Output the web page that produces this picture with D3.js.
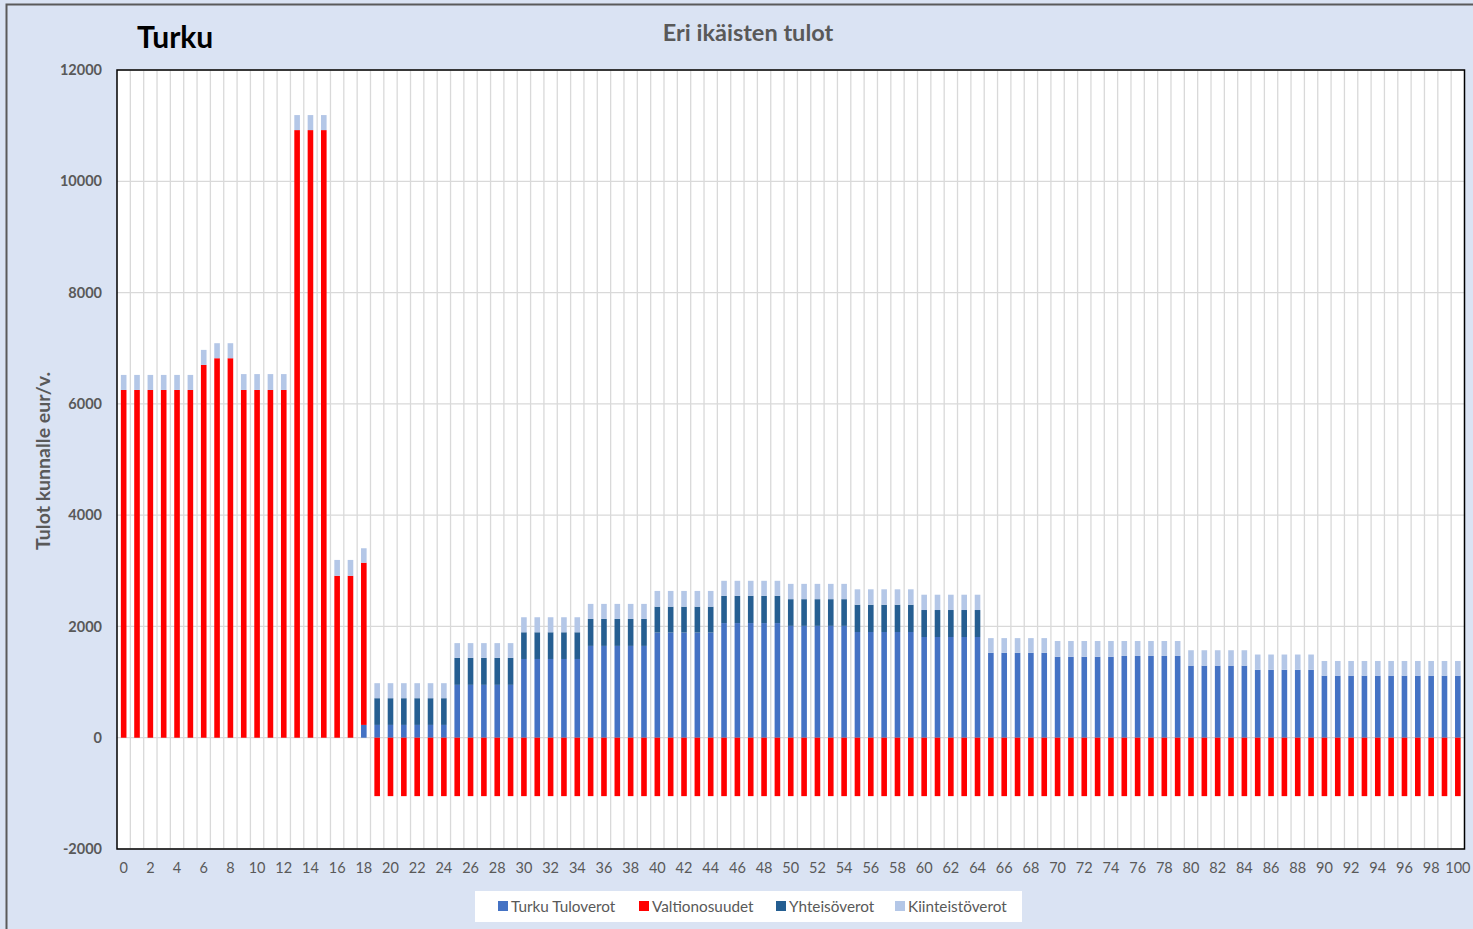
<!DOCTYPE html>
<html><head><meta charset="utf-8">
<script src="https://cdn.jsdelivr.net/npm/d3@7"></script>
<style>html,body{margin:0;padding:0;background:#dae3f3;overflow:hidden;}svg{display:block;}</style>
</head><body>
<svg id="c" width="1473" height="929"></svg>
<script>
const ages = d3.range(0, 101);
const tuloverot = [0,0,0,0,0,0,0,0,0,0,0,0,0,0,0,0,0,0,230,
 230,230,230,230,230,230,
 950,950,950,950,950,
 1415,1415,1415,1415,1415,
 1650,1650,1650,1650,1650,
 1890,1890,1890,1890,1890,
 2060,2060,2060,2060,2060,
 2010,2010,2010,2010,2010,
 1900,1900,1900,1900,1900,
 1810,1810,1810,1810,1810,
 1525,1525,1525,1525,1525,
 1455,1455,1455,1455,1455,
 1470,1470,1470,1470,1470,
 1295,1295,1295,1295,1295,
 1220,1220,1220,1220,1220,
 1115,1115,1115,1115,1115,1115,1115,1115,1115,1115,1115];
const valtionosuudet = [6250,6250,6250,6250,6250,6250,6700,6820,6820,6250,6250,6250,6250,
 10920,10920,10920,2910,2910,2915,
 -1050,-1050,-1050,-1050,-1050,-1050,-1050,-1050,-1050,-1050,
 -1050,-1050,-1050,-1050,-1050,-1050,-1050,-1050,-1050,-1050,
 -1050,-1050,-1050,-1050,-1050,-1050,-1050,-1050,-1050,-1050,
 -1050,-1050,-1050,-1050,-1050,-1050,-1050,-1050,-1050,-1050,
 -1050,-1050,-1050,-1050,-1050,-1050,-1050,-1050,-1050,-1050,
 -1050,-1050,-1050,-1050,-1050,-1050,-1050,-1050,-1050,-1050,
 -1050,-1050,-1050,-1050,-1050,-1050,-1050,-1050,-1050,-1050,
 -1050,-1050,-1050,-1050,-1050,-1050,-1050,-1050,-1050,-1050,
 -1050,-1050];
const yhteisoverot = [0,0,0,0,0,0,0,0,0,0,0,0,0,0,0,0,0,0,0,
 480,480,480,480,480,480,
 485,485,485,485,485,
 480,480,480,480,480,
 485,485,485,485,485,
 465,465,465,465,465,
 490,490,490,490,490,
 480,480,480,480,480,
 490,490,490,490,490,
 485,485,485,485,485,
 0,0,0,0,0,0,0,0,0,0,0,0,0,0,0,0,0,0,0,0,0,0,0,0,0,0,0,0,0,0,0,0,0,0,0,0];
const kiinteistoverot = [270,270,270,270,270,270,270,270,270,285,285,285,285,
 270,270,270,285,285,260,
 270,270,270,270,270,270,
 265,265,265,265,265,
 270,270,270,270,270,
 270,270,270,270,270,
 283,283,283,283,283,
 270,270,270,270,270,
 275,275,275,275,275,
 277,277,277,277,277,
 275,275,275,275,275,
 265,265,265,265,265,
 283,283,283,283,283,
 268,268,268,268,268,
 277,277,277,277,277,
 275,275,275,275,275,
 264,264,264,264,264,264,264,264,264,264,264];
const seriesNames = ["Turku Tuloverot","Valtionosuudet","Yhteisöverot","Kiinteistöverot"];
const seriesColors = ["#4472c4","#ff0000","#255e91","#b4c7e7"];
const yTicks = [-2000,0,2000,4000,6000,8000,10000,12000];
const xTickLabels = ages.filter(a => a % 2 === 0);

const rows = ages.map((a,i) => ({age:a, s0:tuloverot[i], s1:valtionosuudet[i], s2:yhteisoverot[i], s3:kiinteistoverot[i]}));
const stacked = d3.stack().keys(["s0","s1","s2","s3"]).offset(d3.stackOffsetDiverging)(rows);

const svg = d3.select("#c");
const font = "Lato, 'Open Sans', sans-serif";
const gray = "#595959";

// outer border
svg.append("rect").attr("x",6.5).attr("y",4.5).attr("width",1480).attr("height",940)
  .attr("fill","#dae3f3").attr("stroke","#5a5a5a").attr("stroke-width",2);

const L = 117, R = 1464.5, T = 70, B = 849;
const x = d3.scaleBand().domain(ages).range([L, R]).paddingInner(0).paddingOuter(0);
const y = d3.scaleLinear().domain([-2000, 12000]).range([B, T]);

svg.append("rect").attr("x",L).attr("y",T).attr("width",R-L).attr("height",B-T).attr("fill","#fff");

// vertical gridlines at category boundaries
svg.append("g").selectAll("line").data(ages.slice(1)).join("line")
  .attr("x1",d=>x(d)).attr("x2",d=>x(d)).attr("y1",T).attr("y2",B)
  .attr("stroke","#d9d9d9").attr("stroke-width",1.3);
// horizontal gridlines
svg.append("g").selectAll("line").data(yTicks).join("line")
  .attr("x1",L).attr("x2",R).attr("y1",d=>y(d)).attr("y2",d=>y(d))
  .attr("stroke","#d9d9d9").attr("stroke-width",1.3);

// bars
const bw = x.bandwidth()*0.42;
svg.append("g").selectAll("g").data(stacked).join("g")
  .attr("fill",(d,i)=>seriesColors[i])
  .selectAll("rect").data(d=>d).join("rect")
  .attr("x",d=>x(d.data.age)+x.bandwidth()/2-bw/2)
  .attr("width",bw)
  .attr("y",d=>y(Math.max(d[0],d[1])))
  .attr("height",d=>Math.abs(y(d[0])-y(d[1])));

// plot border
svg.append("rect").attr("x",L).attr("y",T).attr("width",R-L).attr("height",B-T)
  .attr("fill","none").attr("stroke","#000").attr("stroke-width",1.5);

// y axis
const yAxis = svg.append("g").attr("transform",`translate(${L},0)`)
  .call(d3.axisLeft(y).tickValues(yTicks).tickSize(0).tickPadding(15).tickFormat(d => String(d)));
yAxis.select(".domain").remove();
yAxis.selectAll("text").attr("font-family",font).attr("font-size",14.5).attr("font-weight","bold").attr("fill",gray);

// x axis
const xAxis = svg.append("g").attr("transform",`translate(0,${B})`)
  .call(d3.axisBottom(x).tickValues(xTickLabels).tickSize(0).tickPadding(14));
xAxis.select(".domain").remove();
xAxis.selectAll("text").attr("font-family",font).attr("font-size",14.5).attr("fill",gray);

// titles
svg.append("text").attr("x",137).attr("y",48).text("Turku")
  .attr("font-family",font).attr("font-size",30).attr("font-weight","bold").attr("fill","#000");
svg.append("text").attr("x",748).attr("y",41).attr("text-anchor","middle").text("Eri ikäisten tulot")
  .attr("font-family",font).attr("font-size",23.5).attr("font-weight","bold").attr("fill",gray);
svg.append("text").attr("transform","translate(50,461) rotate(-90)").attr("text-anchor","middle")
  .text("Tulot kunnalle eur/v.").attr("font-family",font).attr("font-size",19.5).attr("font-weight","bold").attr("fill",gray);

// legend
svg.append("rect").attr("x",475).attr("y",891).attr("width",547).attr("height",31).attr("fill","#fff");
const legX = [498, 639, 776, 895];
const lg = svg.append("g").selectAll("g").data(seriesNames).join("g")
  .attr("transform",(d,i)=>`translate(${legX[i]},901)`);
lg.append("rect").attr("width",10).attr("height",10).attr("fill",(d,i)=>seriesColors[i]);
lg.append("text").attr("x",13).attr("y",11).text(d=>d)
  .attr("font-family",font).attr("font-size",15.3).attr("fill",gray);
</script>
</body></html>
